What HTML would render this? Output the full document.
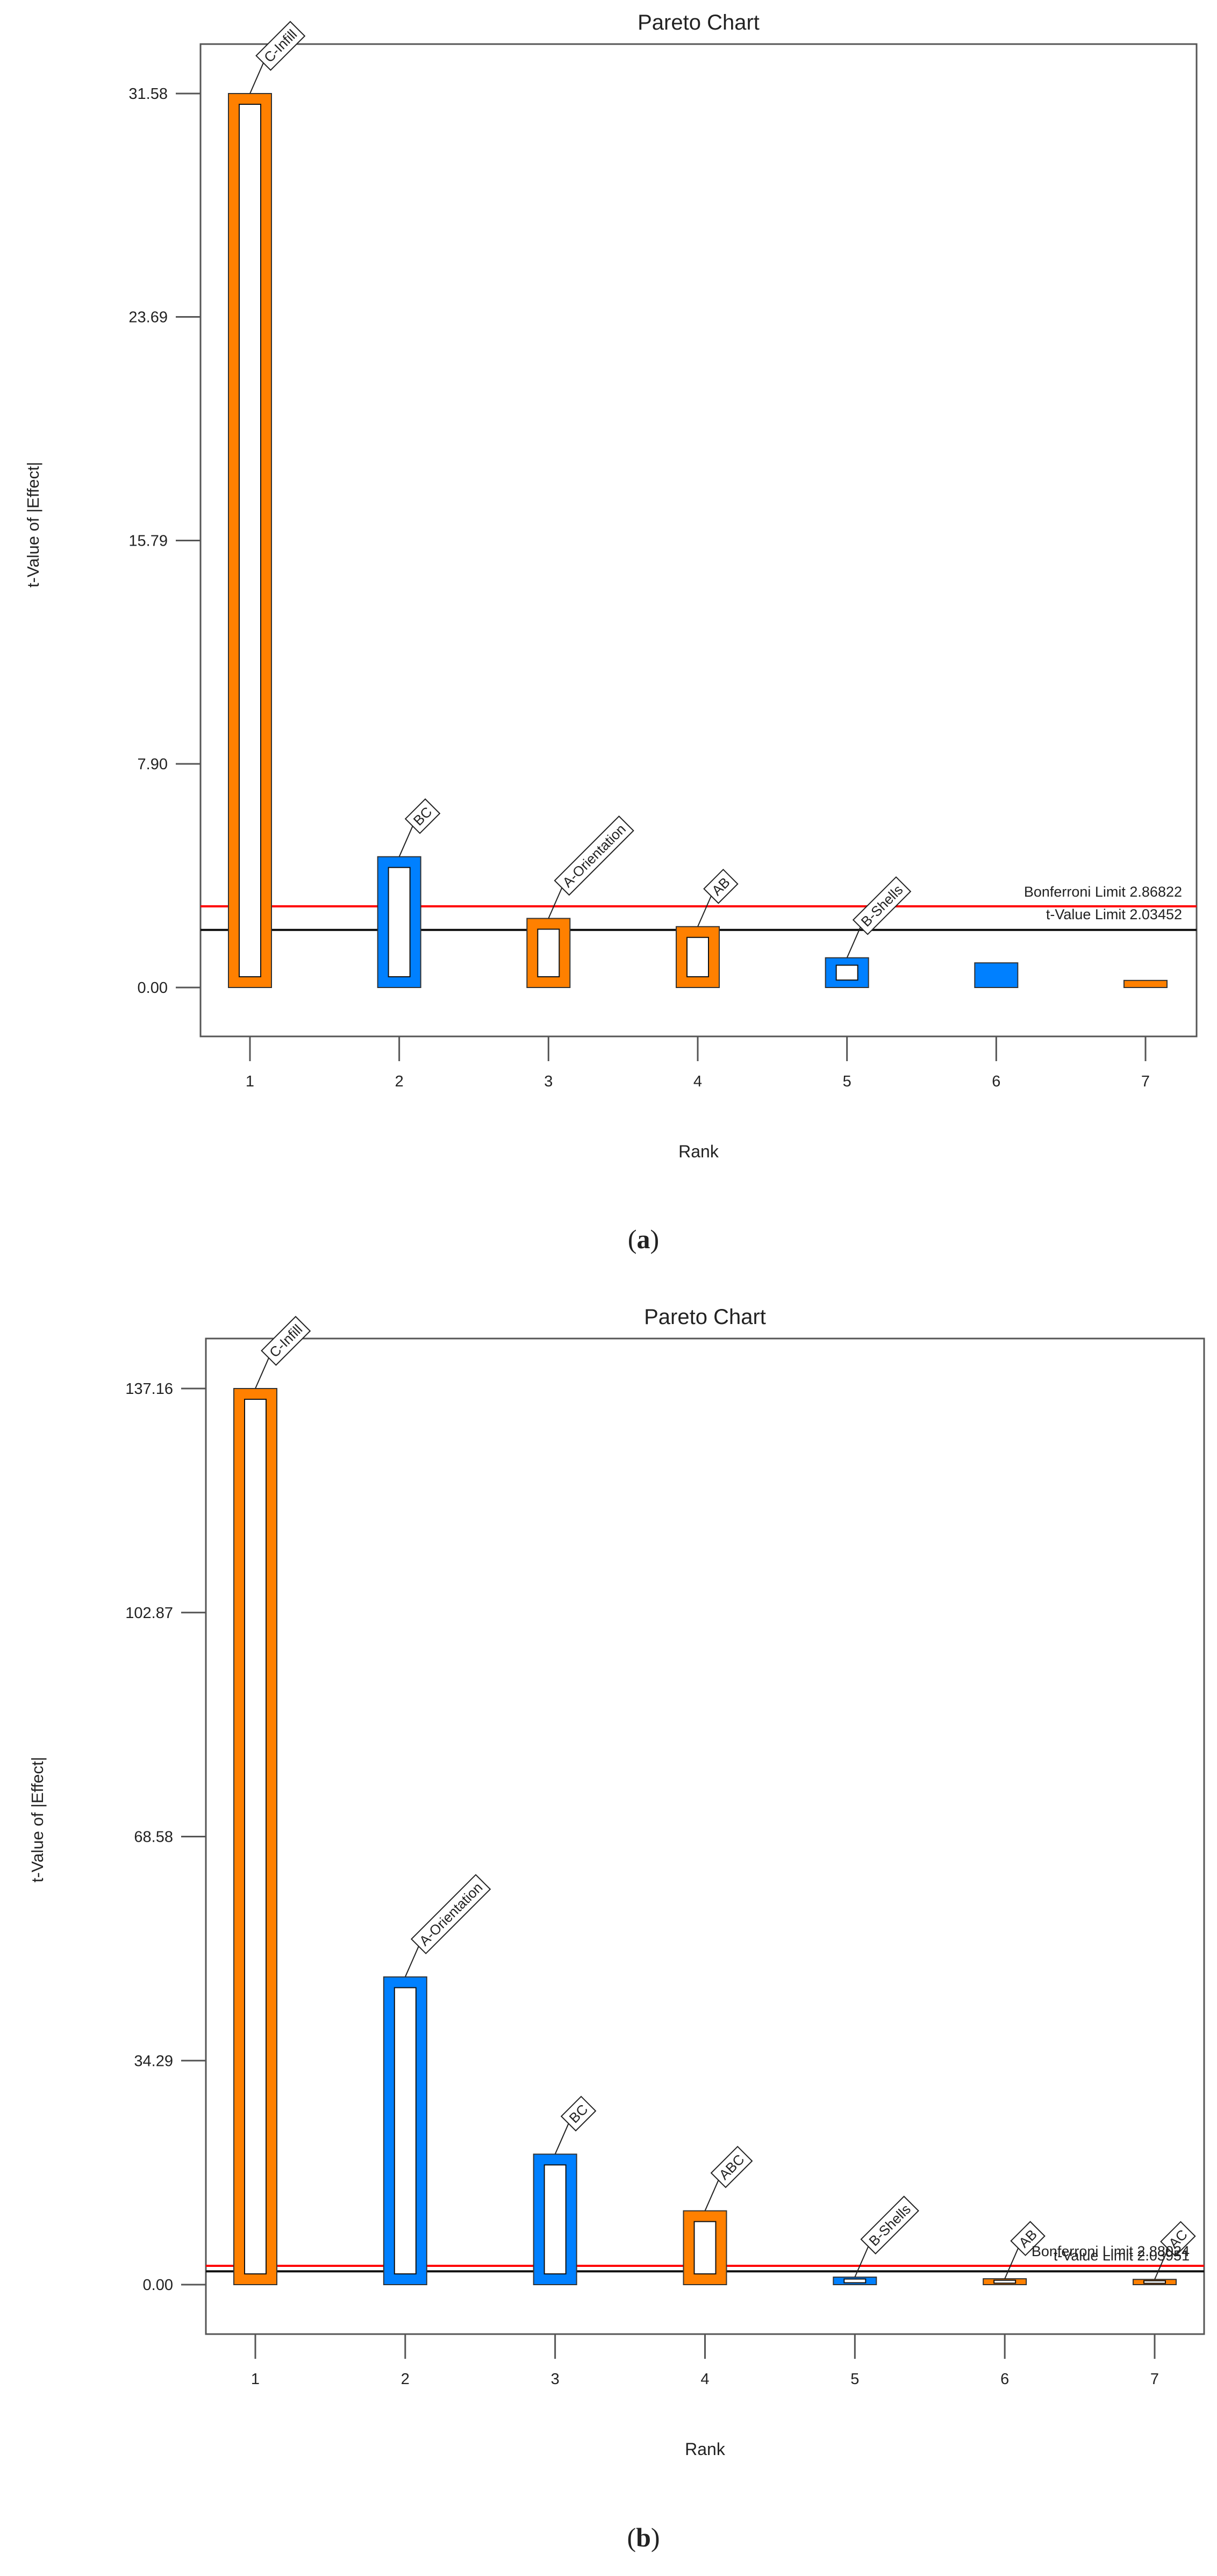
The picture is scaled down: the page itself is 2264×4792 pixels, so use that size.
<!DOCTYPE html>
<html><head><meta charset="utf-8"><style>
html,body{margin:0;padding:0;background:#fff;}
svg{display:block;}
text{font-family:"Liberation Sans",sans-serif;fill:#222;}
</style></head><body>
<svg id="s" width="2264" height="4792" viewBox="0 0 2264 4792" xmlns="http://www.w3.org/2000/svg"></svg>
<script>
// ---- Chart (a) data ----
const ranksA = [1,2,3,4,5,6,7];
const valuesA = [31.58, 4.62, 2.44, 2.15, 1.05, 0.87, 0.25];
const labelsA = ['C-Infill','BC','A-Orientation','AB','B-Shells','',''];
const signA = ['pos','neg','pos','pos','neg','neg','pos'];
const hollowA = [1,1,1,1,1,0,0];
const ticksA = [0, 7.90, 15.79, 23.69, 31.58];
const tickLabelsA = ['0.00','7.90','15.79','23.69','31.58'];
const bonfA = 2.86822, tlimA = 2.03452;
const bonfTextA = 'Bonferroni Limit 2.86822', tlimTextA = 't-Value Limit 2.03452';
// ---- Chart (b) data ----
const ranksB = [1,2,3,4,5,6,7];
const valuesB = [137.16, 47.1, 19.97, 11.3, 1.15, 0.9, 0.8];
const labelsB = ['C-Infill','A-Orientation','BC','ABC','B-Shells','AB','AC'];
const signB = ['pos','neg','neg','pos','neg','pos','pos'];
const hollowB = [1,1,1,1,1,1,1];
const ticksB = [0, 34.29, 68.58, 102.87, 137.16];
const tickLabelsB = ['0.00','34.29','68.58','102.87','137.16'];
const bonfB = 2.88024, tlimB = 2.03951;
const bonfTextB = 'Bonferroni Limit 2.88024', tlimTextB = 't-Value Limit 2.03951';

const NS='http://www.w3.org/2000/svg';
const svg=document.getElementById('s');
function mk(tag,attrs,parent){const e=document.createElementNS(NS,tag);for(const k in attrs)e.setAttribute(k,attrs[k]);(parent||svg).appendChild(e);return e;}

function drawChart(cfg){
  const g=mk('g',{});
  
  
  const L=cfg.left,R=cfg.right,T=cfg.top,B=cfg.bottom;
  const y=v=>cfg.y0 - v/cfg.vmax*(cfg.y0-cfg.ymax);
  const x=r=>cfg.x1 + (r-1)*(cfg.x7-cfg.x1)/6;
  // title
  const t=mk('text',{x:(L+R)/2,y:cfg.titleY,'text-anchor':'middle','font-size':40},g);t.textContent='Pareto Chart';
  
  
  // frame
  const fr=mk('rect',{x:L,y:T,width:R-L,height:B-T,fill:'none',stroke:'#555','stroke-width':3},g);
  
  
  // y ticks
  cfg.ticks.forEach((v,i)=>{
    const ln=mk('line',{x1:L-46,x2:L,y1:y(v),y2:y(v),stroke:'#555','stroke-width':3},g);
    
    
    const tx=mk('text',{x:L-61,y:y(v)+10,'text-anchor':'end','font-size':29},g);
    tx.textContent=cfg.tickLabels[i];
    
    
  });
  // x ticks
  cfg.ranks.forEach(r=>{
    const ln=mk('line',{x1:x(r),x2:x(r),y1:B,y2:B+46,stroke:'#555','stroke-width':3},g);
    
    
    const tx=mk('text',{x:x(r),y:B+93,'text-anchor':'middle','font-size':29},g);
    tx.textContent=String(r);
    
    
  });
  // axis titles
  const xt=mk('text',{x:(L+R)/2,y:cfg.rankY,'text-anchor':'middle','font-size':32},g);xt.textContent='Rank';
  
  
  const yt=mk('text',{x:0,y:0,'text-anchor':'middle','font-size':31,transform:`translate(${cfg.yTitleX},${cfg.yTitleY}) rotate(-90)`},g);yt.textContent='t-Value of |Effect|';
  
  
  // limit lines
  const rl=mk('line',{x1:L,x2:R,y1:y(cfg.bonf),y2:y(cfg.bonf),stroke:'#ff0000','stroke-width':4},g);
  
  
  const bl=mk('line',{x1:L,x2:R,y1:y(cfg.tlim),y2:y(cfg.tlim),stroke:'#111','stroke-width':4},g);
  
  
  // bars
  const bw=80;
  cfg.values.forEach((v,i)=>{
    const cx=x(cfg.ranks[i]), top=y(v), h=cfg.y0-top;
    const col=cfg.sign[i]==='pos'?'#ff8000':'#0080ff';
    const r=mk('rect',{x:cx-bw/2,y:top,width:bw,height:h,fill:col,stroke:'#333','stroke-width':2},g);
    
    
    if(cfg.hollow[i]){
      const iv=Math.min(20,h*0.25);
      const ir=mk('rect',{x:cx-bw/2+20,y:top+iv,width:bw-40,height:Math.max(1,h-2*iv),fill:'#fff',stroke:'#111','stroke-width':2},g);
      
      
    }
    if(cfg.labels[i]){
      const ax=cx+25, ay=top-57;
      const ld=mk('line',{x1:cx,y1:top,x2:ax,y2:ay,stroke:'#222','stroke-width':2},g);
      
      
      const lg=mk('g',{transform:`translate(${ax},${ay}) rotate(-45)`},g);
      
      
      const rect=mk('rect',{x:0,y:-19,width:10,height:38,fill:'#fff',stroke:'#222','stroke-width':2},lg);
      const tx=mk('text',{x:8,y:9,'font-size':26},lg);
      tx.textContent=cfg.labels[i];
      rect.setAttribute('width',tx.getComputedTextLength()+16);
    }
  });
  // limit texts
  const bt=mk('text',{x:R-27,y:y(cfg.bonf)-18,'text-anchor':'end','font-size':27},g);bt.textContent=cfg.bonfText;
  
  
  const tt=mk('text',{x:R-27,y:y(cfg.tlim)-20,'text-anchor':'end','font-size':27},g);tt.textContent=cfg.tlimText;
  
  
  // caption
  const cap=mk('text',{x:1197,y:cfg.capY,'text-anchor':'middle','font-size':50,style:'font-family:"Liberation Serif",serif'},g);
  cap.innerHTML='(<tspan font-weight="bold">'+cfg.cap+'</tspan>)';
  
  
}

drawChart({name:'pareto-chart-a',left:373,right:2226,top:82,bottom:1928,y0:1837,ymax:174,vmax:31.58,
  x1:465,x7:2131,titleY:55,rankY:2153,yTitleX:72,yTitleY:976,capY:2322,cap:'a',
  ranks:ranksA,values:valuesA,labels:labelsA,sign:signA,hollow:hollowA,ticks:ticksA,tickLabels:tickLabelsA,
  bonf:bonfA,tlim:tlimA,bonfText:bonfTextA,tlimText:tlimTextA});
drawChart({name:'pareto-chart-b',left:383,right:2240,top:2490,bottom:4342,y0:4250,ymax:2583,vmax:137.16,
  x1:475,x7:2148,titleY:2463,rankY:4567,yTitleX:80,yTitleY:3385,capY:4737,cap:'b',
  ranks:ranksB,values:valuesB,labels:labelsB,sign:signB,hollow:hollowB,ticks:ticksB,tickLabels:tickLabelsB,
  bonf:bonfB,tlim:tlimB,bonfText:bonfTextB,tlimText:tlimTextB});
</script>
</body></html>
